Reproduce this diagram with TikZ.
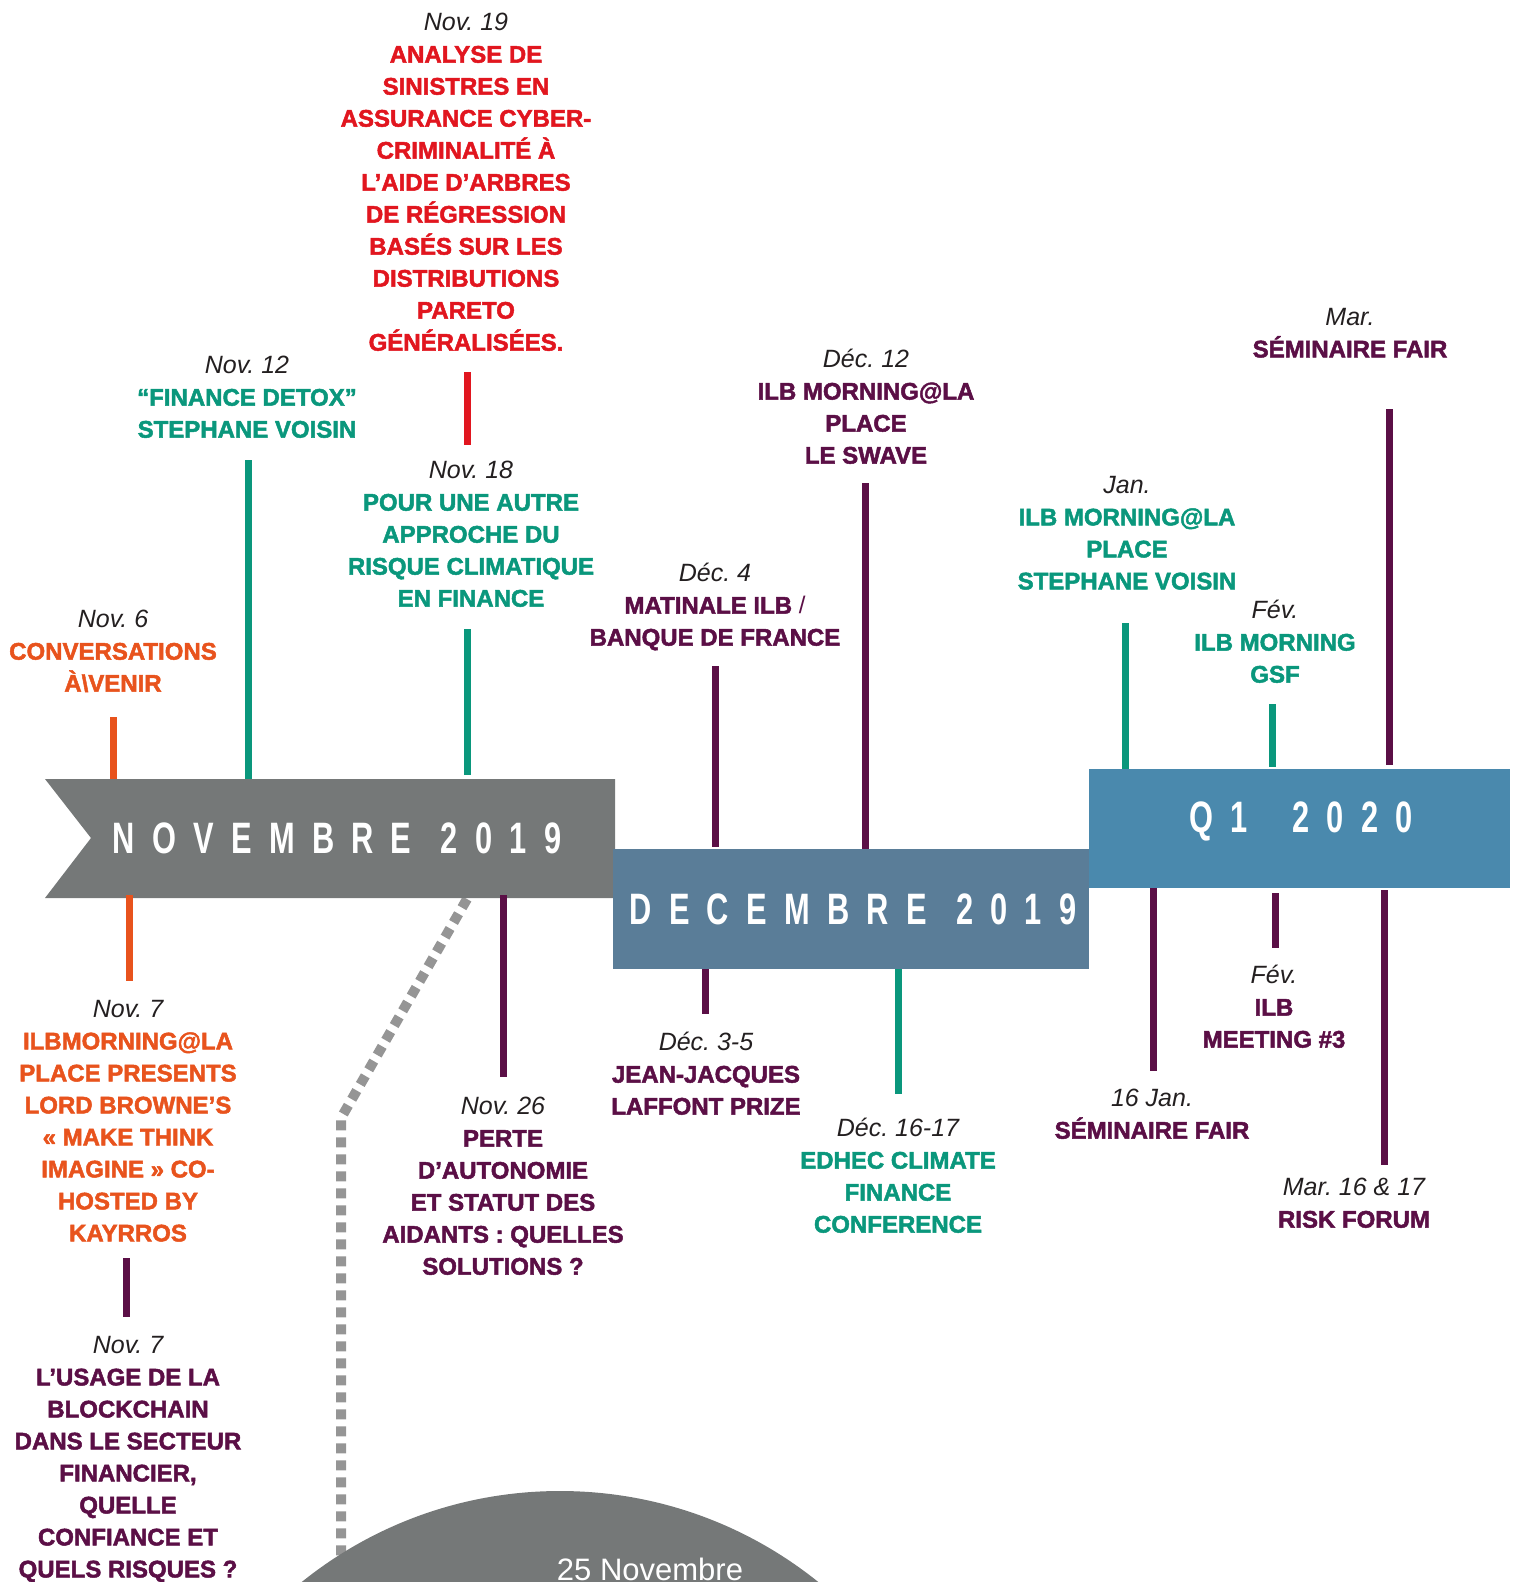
\documentclass[tikz,border=0pt]{standalone}
\usepackage{fontspec}
\setmainfont{Liberation Sans}
\newfontfamily\heavyfont{Liberation Sans Bold}[FakeBold=2]
\newfontfamily\bannerfont[LetterSpace=56]{Liberation Sans}
\frenchspacing
\definecolor{novc}{HTML}{757878}
\definecolor{decc}{HTML}{5A7D98}
\definecolor{qonec}{HTML}{4A89AD}
\definecolor{orangec}{HTML}{E8531D}
\definecolor{greenc}{HTML}{0A977C}
\definecolor{redc}{HTML}{E1161F}
\definecolor{purplec}{HTML}{5B0F46}
\definecolor{datec}{HTML}{231F20}
\definecolor{dashc}{HTML}{959595}
\newcommand\evdate[1]{{\fontsize{25}{32}\selectfont\normalfont\fontsize{25}{32}\selectfont\itshape\color{datec}#1}}
\tikzset{
  ev/.style={align=center, inner sep=0pt, anchor=north, font=\fontsize{24}{32}\selectfont\heavyfont},
  conn/.style={line width=7pt},
  bannertext/.style={text=white, inner sep=0pt, font=\fontsize{44}{44}\selectfont\bannerfont\bfseries},
}
\begin{document}
\begin{tikzpicture}[x=1pt,y=-1pt]
\useasboundingbox (0,0) rectangle (1521,1582);
\clip (0,0) rectangle (1521,1582);

% dashed path and big disc
\draw[dashc, line width=10pt, dash pattern=on 10pt off 7pt] (467,899) -- (341,1118) -- (341,1600);
\fill[novc] (560,1903) circle (412);
\node[text=white, inner sep=0pt, anchor=north, font=\fontsize{31}{31}\selectfont] (nov25) at (650,1558) {25 Novembre};

% banners
\fill[novc] (45,779) -- (615,779) -- (615,898) -- (45,898) -- (91,838) -- cycle;
\node[fill=decc, minimum width=476pt, minimum height=120pt, anchor=north west, inner sep=0pt] (dec) at (613,849) {};
\node[fill=qonec, minimum width=421pt, minimum height=119pt, anchor=north west, inner sep=0pt] (qone) at (1089,769) {};
\node[bannertext] (novt) at (337,838) {\scalebox{0.7}[1]{NOVEMBRE\hspace{42pt}2019}};
\node[bannertext] (dect) at (853,909) {\scalebox{0.7}[1]{DECEMBRE\hspace{42pt}2019}};
\node[bannertext] (qonet) at (1301,821) {\scalebox{0.7}[1]{Q1\hspace{64pt}2020}};

% events above
\node[ev, text=redc] (nov19) at (466,13) {\evdate{Nov. 19}\\ANALYSE DE\\SINISTRES EN\\ASSURANCE CYBER-\\CRIMINALITÉ À\\L’AIDE D’ARBRES\\DE RÉGRESSION\\BASÉS SUR LES\\DISTRIBUTIONS\\PARETO\\GÉNÉRALISÉES.};
\node[ev, text=greenc] (nov12) at (247,356) {\evdate{Nov. 12}\\“FINANCE DETOX”\\STEPHANE VOISIN};
\node[ev, text=greenc] (nov18) at (471,461) {\evdate{Nov. 18}\\POUR UNE AUTRE\\APPROCHE DU\\RISQUE CLIMATIQUE\\EN FINANCE};
\node[ev, text=orangec] (nov6) at (113,610) {\evdate{Nov. 6}\\CONVERSATIONS\\À\textbackslash VENIR};
\node[ev, text=purplec] (dec4) at (715,563) {\evdate{Déc. 4}\\MATINALE ILB {\normalfont\fontsize{24}{32}\selectfont/}\\BANQUE DE FRANCE};
\node[ev, text=purplec] (dec12) at (866,349) {\evdate{Déc. 12}\\ILB MORNING@LA\\PLACE\\LE SWAVE};
\node[ev, text=greenc] (jan) at (1127,476) {\evdate{Jan.}\\ILB MORNING@LA\\PLACE\\STEPHANE VOISIN};
\node[ev, text=greenc] (feva) at (1275,600) {\evdate{Fév.}\\ILB MORNING\\GSF};
\node[ev, text=purplec] (mar) at (1350,308) {\evdate{Mar.}\\SÉMINAIRE FAIR};

% events below
\node[ev, text=orangec] (nov7a) at (128,1000) {\evdate{Nov. 7}\\ILBMORNING@LA\\PLACE PRESENTS\\LORD BROWNE’S\\« MAKE THINK\\IMAGINE » CO-\\HOSTED BY\\KAYRROS};
\node[ev, text=purplec] (nov7b) at (128,1336) {\evdate{Nov. 7}\\L’USAGE DE LA\\BLOCKCHAIN\\DANS LE SECTEUR\\FINANCIER,\\QUELLE\\CONFIANCE ET\\QUELS RISQUES ?};
\node[ev, text=purplec] (nov26) at (503,1097) {\evdate{Nov. 26}\\PERTE\\D’AUTONOMIE\\ET STATUT DES\\AIDANTS : QUELLES\\SOLUTIONS ?};
\node[ev, text=purplec] (dec35) at (706,1032) {\evdate{Déc. 3-5}\\JEAN-JACQUES\\LAFFONT PRIZE};
\node[ev, text=greenc] (dec1617) at (898,1118) {\evdate{Déc. 16-17}\\EDHEC CLIMATE\\FINANCE\\CONFERENCE};
\node[ev, text=purplec] (jan16) at (1152,1089) {\evdate{16 Jan.}\\SÉMINAIRE FAIR};
\node[ev, text=purplec] (fevb) at (1274,965) {\evdate{Fév.}\\ILB\\MEETING \#3};
\node[ev, text=purplec] (mar16) at (1354,1178) {\evdate{Mar. 16 \& 17}\\RISK FORUM};

% connector end points
\coordinate (c1a) at (113,717);  \coordinate (c1b) at (113,779);
\coordinate (c2a) at (248,460);  \coordinate (c2b) at (248,779);
\coordinate (c3a) at (467,629);  \coordinate (c3b) at (467,775);
\coordinate (c4a) at (467,372);  \coordinate (c4b) at (467,445);
\coordinate (c5a) at (715,666);  \coordinate (c5b) at (715,847);
\coordinate (c6a) at (865,483);  \coordinate (c6b) at (865,849);
\coordinate (c7a) at (1125,623); \coordinate (c7b) at (1125,769);
\coordinate (c8a) at (1272,704); \coordinate (c8b) at (1272,767);
\coordinate (c9a) at (1389,409); \coordinate (c9b) at (1389,765);
\coordinate (d1a) at (129,895);  \coordinate (d1b) at (129,981);
\coordinate (d2a) at (126,1258); \coordinate (d2b) at (126,1317);
\coordinate (d3a) at (503,895);  \coordinate (d3b) at (503,1077);
\coordinate (d4a) at (705,969);  \coordinate (d4b) at (705,1014);
\coordinate (d5a) at (898,969);  \coordinate (d5b) at (898,1094);
\coordinate (d6a) at (1153,888); \coordinate (d6b) at (1153,1071);
\coordinate (d7a) at (1275,893); \coordinate (d7b) at (1275,948);
\coordinate (d8a) at (1384,890); \coordinate (d8b) at (1384,1165);

\draw[conn, orangec] (c1a) -- (c1b);
\draw[conn, greenc] (c2a) -- (c2b);
\draw[conn, greenc] (c3a) -- (c3b);
\draw[conn, redc] (c4a) -- (c4b);
\draw[conn, purplec] (c5a) -- (c5b);
\draw[conn, purplec] (c6a) -- (c6b);
\draw[conn, greenc] (c7a) -- (c7b);
\draw[conn, greenc] (c8a) -- (c8b);
\draw[conn, purplec] (c9a) -- (c9b);
\draw[conn, orangec] (d1a) -- (d1b);
\draw[conn, purplec] (d2a) -- (d2b);
\draw[conn, purplec] (d3a) -- (d3b);
\draw[conn, purplec] (d4a) -- (d4b);
\draw[conn, greenc] (d5a) -- (d5b);
\draw[conn, purplec] (d6a) -- (d6b);
\draw[conn, purplec] (d7a) -- (d7b);
\draw[conn, purplec] (d8a) -- (d8b);
\end{tikzpicture}
\end{document}
